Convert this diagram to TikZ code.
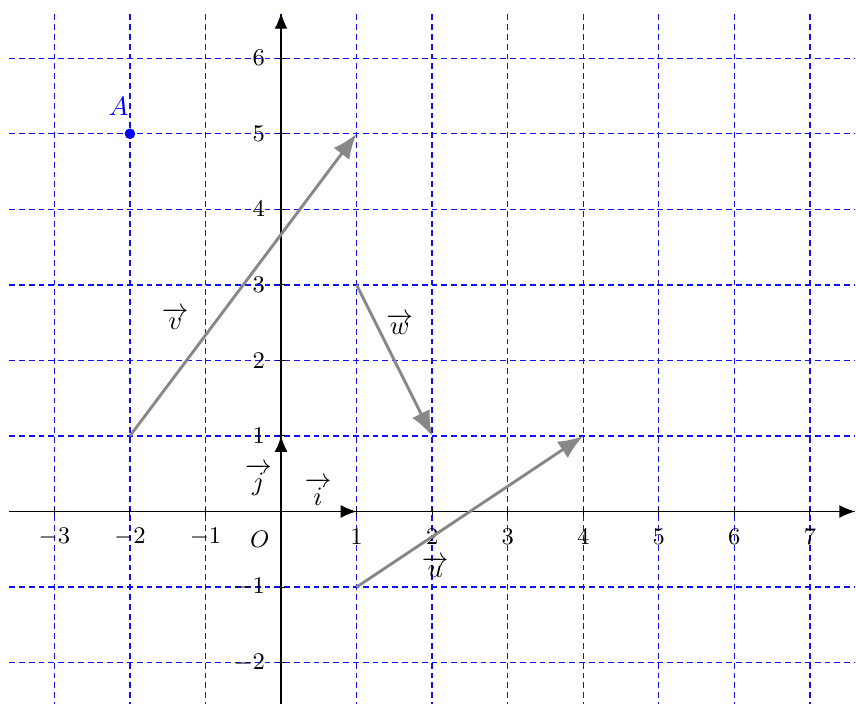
\documentclass[tikz,border=0pt]{standalone}
\usepackage{amsmath,amssymb}
\usepackage{xcolor}
\usepackage{tikz}
\usetikzlibrary{arrows.meta,positioning}
\definecolor{gridc}{HTML}{1010F0}
\definecolor{vecc}{HTML}{888888}
\tikzset{
  grille/.style={gridc,line width=0.5pt,dash pattern=on 2.2pt off 1.5pt},
  axe/.style={-{Latex[length=2.1mm,width=1.7mm]},line width=0.5pt,black},
  vec/.style={-{Latex[length=3.3mm,width=2.6mm]},line width=1.1pt,vecc},
  grad/.style={font=\small,inner sep=1pt},
  nom/.style={font=\normalsize,inner sep=1pt}
}
\begin{document}
\begin{tikzpicture}
\useasboundingbox (-3.72,-2.54) rectangle (7.61,6.77);
% grille
\foreach \y in {-2,...,6}
  \draw[grille] (-3.6,\y) -- (7.6,\y);
\foreach \x in {-3,...,7}
  \draw[grille] (\x,-2.6) -- (\x,6.6);
% axes
\coordinate (O) at (0,0);
\coordinate (xmin) at (-3.6,0);
\coordinate (xmax) at (7.6,0);
\coordinate (ymin) at (0,-2.6);
\coordinate (ymax) at (0,6.6);
\draw[axe] (xmin) -- (xmax);
\draw[axe] (ymin) -- (ymax);
\foreach \x in {-3,-2,-1,1,2,3,4,5,6,7} {
  \draw[line width=0.4pt] (\x,-0.05) -- (\x,0.05);
  \node[grad] at (\x,-0.33) {$\x$};
}
\foreach \y in {-2,-1,1,2,3,4,5,6} {
  \draw[line width=0.4pt] (-0.05,\y) -- (0.05,\y);
  \node[grad,anchor=east] at (-0.17,\y) {$\y$};
}
\node[grad] (o) at (-0.28,-0.37) {$O$};
% base
\coordinate (I) at (1,0);
\coordinate (J) at (0,1);
\draw[axe] (O) -- (I);
\draw[axe] (O) -- (J);
\node[nom] (ni) at (0.49,0.26) {$\overrightarrow{i}$};
\node[nom] (nj) at (-0.3,0.42) {$\overrightarrow{j}$};
% point A
\coordinate (A) at (-2,5);
\fill[blue] (A) circle (2pt);
\node[nom,blue] (na) at (-2.15,5.36) {$A$};
% vecteurs
\coordinate (v1) at (-2,1);
\coordinate (v2) at (1,5);
\coordinate (w1) at (1,3);
\coordinate (w2) at (2,1);
\coordinate (u1) at (1,-1);
\coordinate (u2) at (4,1);
\draw[vec] (v1) -- (v2);
\draw[vec] (w1) -- (w2);
\draw[vec] (u1) -- (u2);
\node[nom] (nv) at (-1.4,2.55) {$\overrightarrow{v}$};
\node[nom] (nw) at (1.57,2.48) {$\overrightarrow{w}$};
\node[nom] (nu) at (2.04,-0.74) {$\overrightarrow{u}$};
\end{tikzpicture}
\end{document}
